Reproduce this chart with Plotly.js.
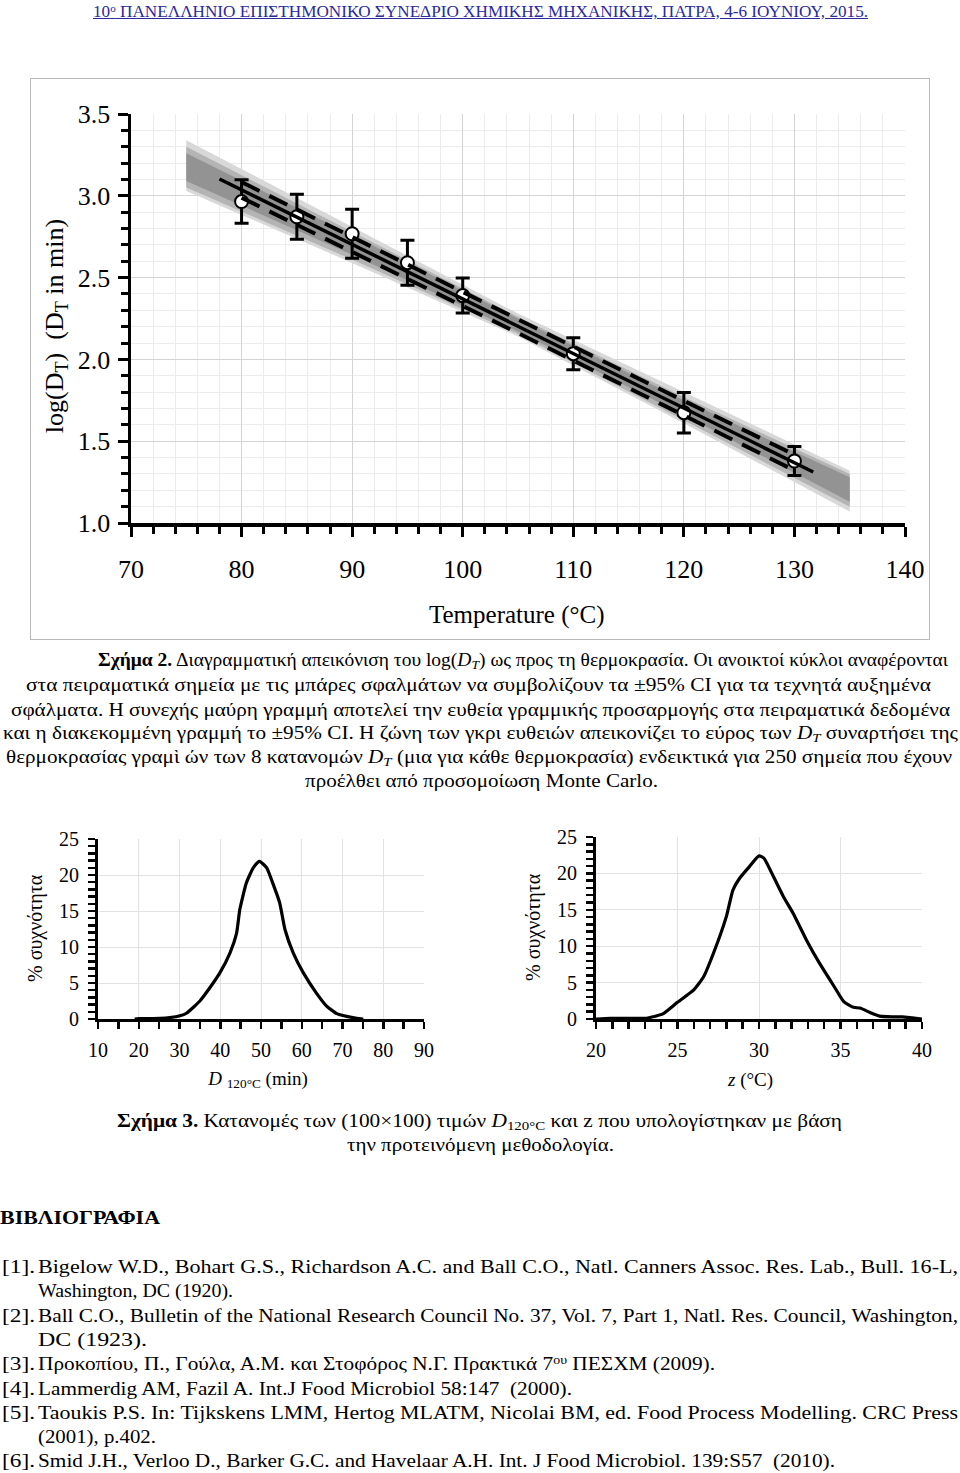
<!DOCTYPE html>
<html><head><meta charset="utf-8">
<script src="https://cdn.plot.ly/plotly-3.0.1.min.js"></script>
<style>
html,body{margin:0;padding:0;background:#fff;}
body{width:960px;height:1473px;position:relative;overflow:hidden;font-family:"Liberation Serif","Times New Roman",serif;color:#000;}
#box{position:absolute;left:30px;top:78px;width:898px;height:560px;border:1px solid #b8b8b8;}
#chart{position:absolute;left:0;top:0;width:960px;height:1473px;}
.ln{position:absolute;white-space:nowrap;font-size:18px;line-height:20px;height:20px;transform-origin:0 50%;}
.hdr{color:#2a2a9c;text-decoration:underline;font-size:16px;}
.ttl{position:absolute;white-space:nowrap;line-height:1.2;}
sub{font-size:70%;vertical-align:-0.25em;line-height:1;}
sup{font-size:65%;vertical-align:0.5em;line-height:1;}
</style></head><body>
<div id="box"></div>
<div id="chart"></div>

<div class="ttl" style="left:55px;top:326px;font-size:26px;transform:translate(-50%,-50%) rotate(-90deg);">log(D<sub>T</sub>)&nbsp;&nbsp;(D<sub>T</sub> in min)</div>
<div class="ttl" style="left:258px;top:1079px;font-size:19px;transform:translate(-50%,-50%);"><i>D</i> <sub>120°C</sub> (min)</div>

<div class="ln hdr" data-x0="93" data-x1="868" data-y="12">10<sup>ο</sup> ΠΑΝΕΛΛΗΝΙΟ ΕΠΙΣΤΗΜΟΝΙΚΟ ΣΥΝΕΔΡΙΟ ΧΗΜΙΚΗΣ ΜΗΧΑΝΙΚΗΣ, ΠΑΤΡΑ, 4-6 ΙΟΥΝΙΟΥ, 2015.</div>

<div class="ln" data-x0="98" data-x1="948" data-y="660"><b>Σχήμα 2.</b> Διαγραμματική απεικόνιση του log(<i>D<sub>T</sub></i>) ως προς τη θερμοκρασία. Οι ανοικτοί κύκλοι αναφέρονται</div>
<div class="ln" data-x0="26" data-x1="931" data-y="685">στα πειραματικά σημεία με τις μπάρες σφαλμάτων να συμβολίζουν τα ±95% CI για τα τεχνητά αυξημένα</div>
<div class="ln" data-x0="11" data-x1="950" data-y="710">σφάλματα. Η συνεχής μαύρη γραμμή αποτελεί την ευθεία γραμμικής προσαρμογής στα πειραματικά δεδομένα</div>
<div class="ln" data-x0="3" data-x1="958" data-y="733">και η διακεκομμένη γραμμή το ±95% CI. Η ζώνη των γκρι ευθειών απεικονίζει το εύρος των <i>D<sub>T</sub></i> συναρτήσει της</div>
<div class="ln" data-x0="6" data-x1="952" data-y="757">θερμοκρασίας γραμὶ ών των 8 κατανομών <i>D<sub>T</sub></i> (μια για κάθε θερμοκρασία) ενδεικτικά για 250 σημεία που έχουν</div>
<div class="ln" data-x0="305" data-x1="658" data-y="781">προέλθει από προσομοίωση Monte Carlo.</div>

<div class="ln" data-x0="117" data-x1="842" data-y="1121"><b>Σχήμα 3.</b> Κατανομές των (100×100) τιμών <i>D</i><sub>120°C</sub> και z που υπολογίστηκαν με βάση</div>
<div class="ln" data-x0="347" data-x1="614" data-y="1145">την προτεινόμενη μεθοδολογία.</div>
<div class="ln" data-x0="0" data-x1="160" data-y="1218"><b>ΒΙΒΛΙΟΓΡΑΦΙΑ</b></div>

<div class="ln" data-x0="2" data-x1="35" data-y="1267">[1].</div>
<div class="ln" data-x0="38" data-x1="958" data-y="1267">Bigelow W.D., Bohart G.S., Richardson A.C. and Ball C.O., Natl. Canners Assoc. Res. Lab., Bull. 16-L,</div>
<div class="ln" data-x0="38" data-x1="233" data-y="1291">Washington, DC (1920).</div>
<div class="ln" data-x0="2" data-x1="35" data-y="1316">[2].</div>
<div class="ln" data-x0="38" data-x1="958" data-y="1316">Ball C.O., Bulletin of the National Research Council No. 37, Vol. 7, Part 1, Natl. Res. Council, Washington,</div>
<div class="ln" data-x0="38" data-x1="147" data-y="1340">DC (1923).</div>
<div class="ln" data-x0="2" data-x1="35" data-y="1364">[3].</div>
<div class="ln" data-x0="38" data-x1="715" data-y="1364">Προκοπίου, Π., Γούλα, Α.Μ. και Στοφόρος Ν.Γ. Πρακτικά 7<sup>ου</sup> ΠΕΣΧΜ (2009).</div>
<div class="ln" data-x0="2" data-x1="35" data-y="1389">[4].</div>
<div class="ln" data-x0="38" data-x1="572" data-y="1389">Lammerdig AM, Fazil A. Int.J Food Microbiol 58:147&nbsp; (2000).</div>
<div class="ln" data-x0="2" data-x1="35" data-y="1413">[5].</div>
<div class="ln" data-x0="38" data-x1="958" data-y="1413">Taoukis P.S. In: Tijkskens LMM, Hertog MLATM, Nicolai BM, ed. Food Process Modelling. CRC Press</div>
<div class="ln" data-x0="38" data-x1="156" data-y="1437">(2001), p.402.</div>
<div class="ln" data-x0="2" data-x1="35" data-y="1461">[6].</div>
<div class="ln" data-x0="38" data-x1="835" data-y="1461">Smid J.H., Verloo D., Barker G.C. and Havelaar A.H. Int. J Food Microbiol. 139:S57&nbsp; (2010).</div>

<script>
// ---------- data ----------
// Figure 2: experimental log(D_T) points with 95% CI error bars
const tempC      = [80, 85, 90, 95, 100, 110, 120, 130];
const logD       = [2.965, 2.872, 2.768, 2.591, 2.39, 2.035, 1.674, 1.379];
const logDErr    = [0.133, 0.137, 0.15, 0.137, 0.107, 0.098, 0.124, 0.089];
// fitted regression line
const fitT       = [78, 131.7];
const fitLogD    = [3.103, 1.312];
// dashed +/-95% CI of the fit
const ciT        = [80, 92, 105, 118, 129.5];
const ciUpper    = [3.084, 2.680, 2.245, 1.813, 1.434];
const ciLower    = [2.988, 2.592, 2.161, 1.725, 1.338];
// Monte Carlo band of grey lines (envelopes)
const bandT      = [75, 90, 105, 120, 135];
const outerUpper = [3.34, 2.81, 2.28, 1.80, 1.32];
const outerLower = [3.03, 2.59, 2.14, 1.61, 1.07];
const midUpper   = [3.30, 2.78, 2.26, 1.77, 1.30];
const midLower   = [3.05, 2.61, 2.155, 1.63, 1.10];
const coreUpper  = [3.26, 2.76, 2.25, 1.75, 1.28];
const coreLower  = [3.09, 2.64, 2.17, 1.66, 1.13];
// Figure 3 left: distribution of D120°C
const d120       = [19, 20.2, 25.2, 27.6, 30.1, 31.7, 35, 37.4, 39.9, 42.4, 44, 44.8, 46.4, 48.1, 49.6, 51.4, 53, 54.6, 55.9, 57.9, 60.4, 63.6, 66.1, 68.6, 71, 73.5, 75.1];
const d120Freq   = [0, 0.05, 0.1, 0.2, 0.45, 0.8, 2.5, 4.3, 6.4, 9.2, 11.9, 15.2, 18.9, 21.0, 21.9, 21.0, 18.7, 16.1, 12.4, 9.2, 6.4, 3.6, 1.8, 0.74, 0.37, 0.1, 0];
// Figure 3 right: distribution of z
const zVal       = [20, 20.9, 23.1, 23.5, 24.1, 25, 26, 26.6, 27.2, 28, 28.4, 28.8, 29.4, 30, 30.3, 30.9, 31.5, 32.1, 32.9, 33.7, 34.6, 35.2, 35.8, 36.2, 36.8, 37.4, 38.2, 38.8, 39.4, 40];
const zFreq      = [0, 0.1, 0.1, 0.3, 0.7, 2.3, 4.0, 5.8, 9.0, 14.1, 17.7, 19.3, 20.9, 22.4, 22.1, 19.5, 16.8, 14.5, 10.9, 7.7, 4.5, 2.4, 1.6, 1.5, 0.9, 0.4, 0.3, 0.3, 0.15, 0];

// ---------- text fitting for HTML lines ----------
document.querySelectorAll('.ln').forEach(function(el){
  var x0=+el.dataset.x0, x1=+el.dataset.x1, y=+el.dataset.y;
  el.style.left=x0+'px'; el.style.top=(y-10)+'px';
  var w=el.getBoundingClientRect().width;
  el.style.transform='scaleX('+((x1-x0)/w)+')';
});

// ---------- chart ----------
const W=960, H=1473;
const px=function(x){return x/W;}, py=function(y){return 1-y/H;};
const serif='Liberation Serif, Times New Roman, serif';

const traces=[];
function band(lo, up, color){
  traces.push({x:bandT, y:lo, mode:'lines', line:{width:0, color:color}, hoverinfo:'skip', showlegend:false, xaxis:'x', yaxis:'y'});
  traces.push({x:bandT, y:up, mode:'lines', line:{width:0, color:color}, fill:'tonexty', fillcolor:color, hoverinfo:'skip', showlegend:false, xaxis:'x', yaxis:'y'});
}
band(outerLower, outerUpper, '#d8d8d8');
band(midLower, midUpper, '#b4b4b4');
band(coreLower, coreUpper, '#939393');

traces.push({x:tempC, y:logD, mode:'markers', showlegend:false, xaxis:'x', yaxis:'y',
  marker:{symbol:'circle', size:13, color:'white', line:{color:'black', width:2}},
  error_y:{type:'data', array:logDErr, visible:true, color:'black', thickness:3, width:7}});
traces.push({x:fitT, y:fitLogD, mode:'lines', showlegend:false, xaxis:'x', yaxis:'y', line:{color:'black', width:3.5}});
traces.push({x:ciT, y:ciUpper, mode:'lines', showlegend:false, xaxis:'x', yaxis:'y', line:{color:'black', width:4, dash:'20px,11px'}});
traces.push({x:ciT, y:ciLower, mode:'lines', showlegend:false, xaxis:'x', yaxis:'y', line:{color:'black', width:4, dash:'20px,11px'}});

traces.push({x:d120, y:d120Freq, mode:'lines', showlegend:false, xaxis:'x2', yaxis:'y2', line:{color:'black', width:3.2, shape:'spline', smoothing:0.5}});
traces.push({x:zVal, y:zFreq, mode:'lines', showlegend:false, xaxis:'x3', yaxis:'y3', line:{color:'black', width:3.2, shape:'spline', smoothing:0.5}});

function ax(o){
  return Object.assign({
    showline:true, linecolor:'black', zeroline:false, ticks:'outside', tickcolor:'black',
    showgrid:true, fixedrange:true, tickfont:{family:serif, color:'black'}
  }, o);
}

const layout={
  width:W, height:H, margin:{l:0,r:0,t:0,b:0},
  paper_bgcolor:'rgba(0,0,0,0)', plot_bgcolor:'rgba(0,0,0,0)',
  showlegend:false,
  xaxis:ax({domain:[px(131),px(905)], range:[70,140], anchor:'y', tick0:70, dtick:10,
    ticklen:10, tickwidth:3, linewidth:3.5, gridcolor:'#d4d4d4', tickfont:{family:serif,size:26,color:'black'},
    ticklabelstandoff:10,
    minor:{dtick:2, ticks:'outside', ticklen:7, tickwidth:3, tickcolor:'black', showgrid:true, gridcolor:'#ececec'}}),
  yaxis:ax({domain:[py(523),py(114)], range:[1,3.5], anchor:'x', tick0:1, dtick:0.5, tickformat:'.1f',
    ticklen:10, tickwidth:3, linewidth:3.5, gridcolor:'#d4d4d4', tickfont:{family:serif,size:26,color:'black'},
    ticklabelstandoff:2,
    minor:{dtick:0.1, ticks:'outside', ticklen:7, tickwidth:3, tickcolor:'black', showgrid:true, gridcolor:'#ececec'}}),
  xaxis2:ax({domain:[px(98),px(424)], range:[10,90], anchor:'y2', tick0:10, dtick:10,
    ticklen:7, tickwidth:2.5, linewidth:3, gridcolor:'#e2e2e2', tickfont:{family:serif,size:20,color:'black'},
    ticklabelstandoff:4,
    minor:{dtick:5, ticks:'outside', ticklen:7, tickwidth:2.5, tickcolor:'black', showgrid:false}}),
  yaxis2:ax({domain:[py(1019),py(839)], range:[0,25], anchor:'x2', tick0:0, dtick:5,
    ticklen:7, tickwidth:2.5, linewidth:3, gridcolor:'#e2e2e2', tickfont:{family:serif,size:20,color:'black'},
    ticklabelstandoff:5,
    minor:{dtick:1, ticks:'outside', ticklen:7, tickwidth:2.5, tickcolor:'black', showgrid:false}}),
  xaxis3:ax({domain:[px(596),px(922)], range:[20,40], anchor:'y3', tick0:20, dtick:5,
    ticklen:7, tickwidth:2.5, linewidth:3, gridcolor:'#e2e2e2', tickfont:{family:serif,size:20,color:'black'},
    ticklabelstandoff:4,
    minor:{dtick:1, ticks:'outside', ticklen:7, tickwidth:2.5, tickcolor:'black', showgrid:false}}),
  yaxis3:ax({domain:[py(1019),py(837)], range:[0,25], anchor:'x3', tick0:0, dtick:5,
    ticklen:7, tickwidth:2.5, linewidth:3, gridcolor:'#e2e2e2', tickfont:{family:serif,size:20,color:'black'},
    ticklabelstandoff:5,
    minor:{dtick:1, ticks:'outside', ticklen:7, tickwidth:2.5, tickcolor:'black', showgrid:false}}),
  annotations:[
    {xref:'paper', yref:'paper', x:px(517), y:py(615), xanchor:'center', yanchor:'middle', showarrow:false,
     text:'Temperature (°C)', font:{family:serif, size:25, color:'black'}},
    {xref:'paper', yref:'paper', x:px(35), y:py(928), xanchor:'center', yanchor:'middle', textangle:-90, showarrow:false,
     text:'% συχνότητα', font:{family:serif, size:20, color:'black'}},
    {xref:'paper', yref:'paper', x:px(533), y:py(927), xanchor:'center', yanchor:'middle', textangle:-90, showarrow:false,
     text:'% συχνότητα', font:{family:serif, size:20, color:'black'}},
    {xref:'paper', yref:'paper', x:px(750), y:py(1080), xanchor:'center', yanchor:'middle', showarrow:false,
     text:'<i>z</i> (°C)', font:{family:serif, size:19, color:'black'}}
  ]
};

Plotly.newPlot('chart', traces, layout, {staticPlot:true, displayModeBar:false});
</script>
</body></html>
